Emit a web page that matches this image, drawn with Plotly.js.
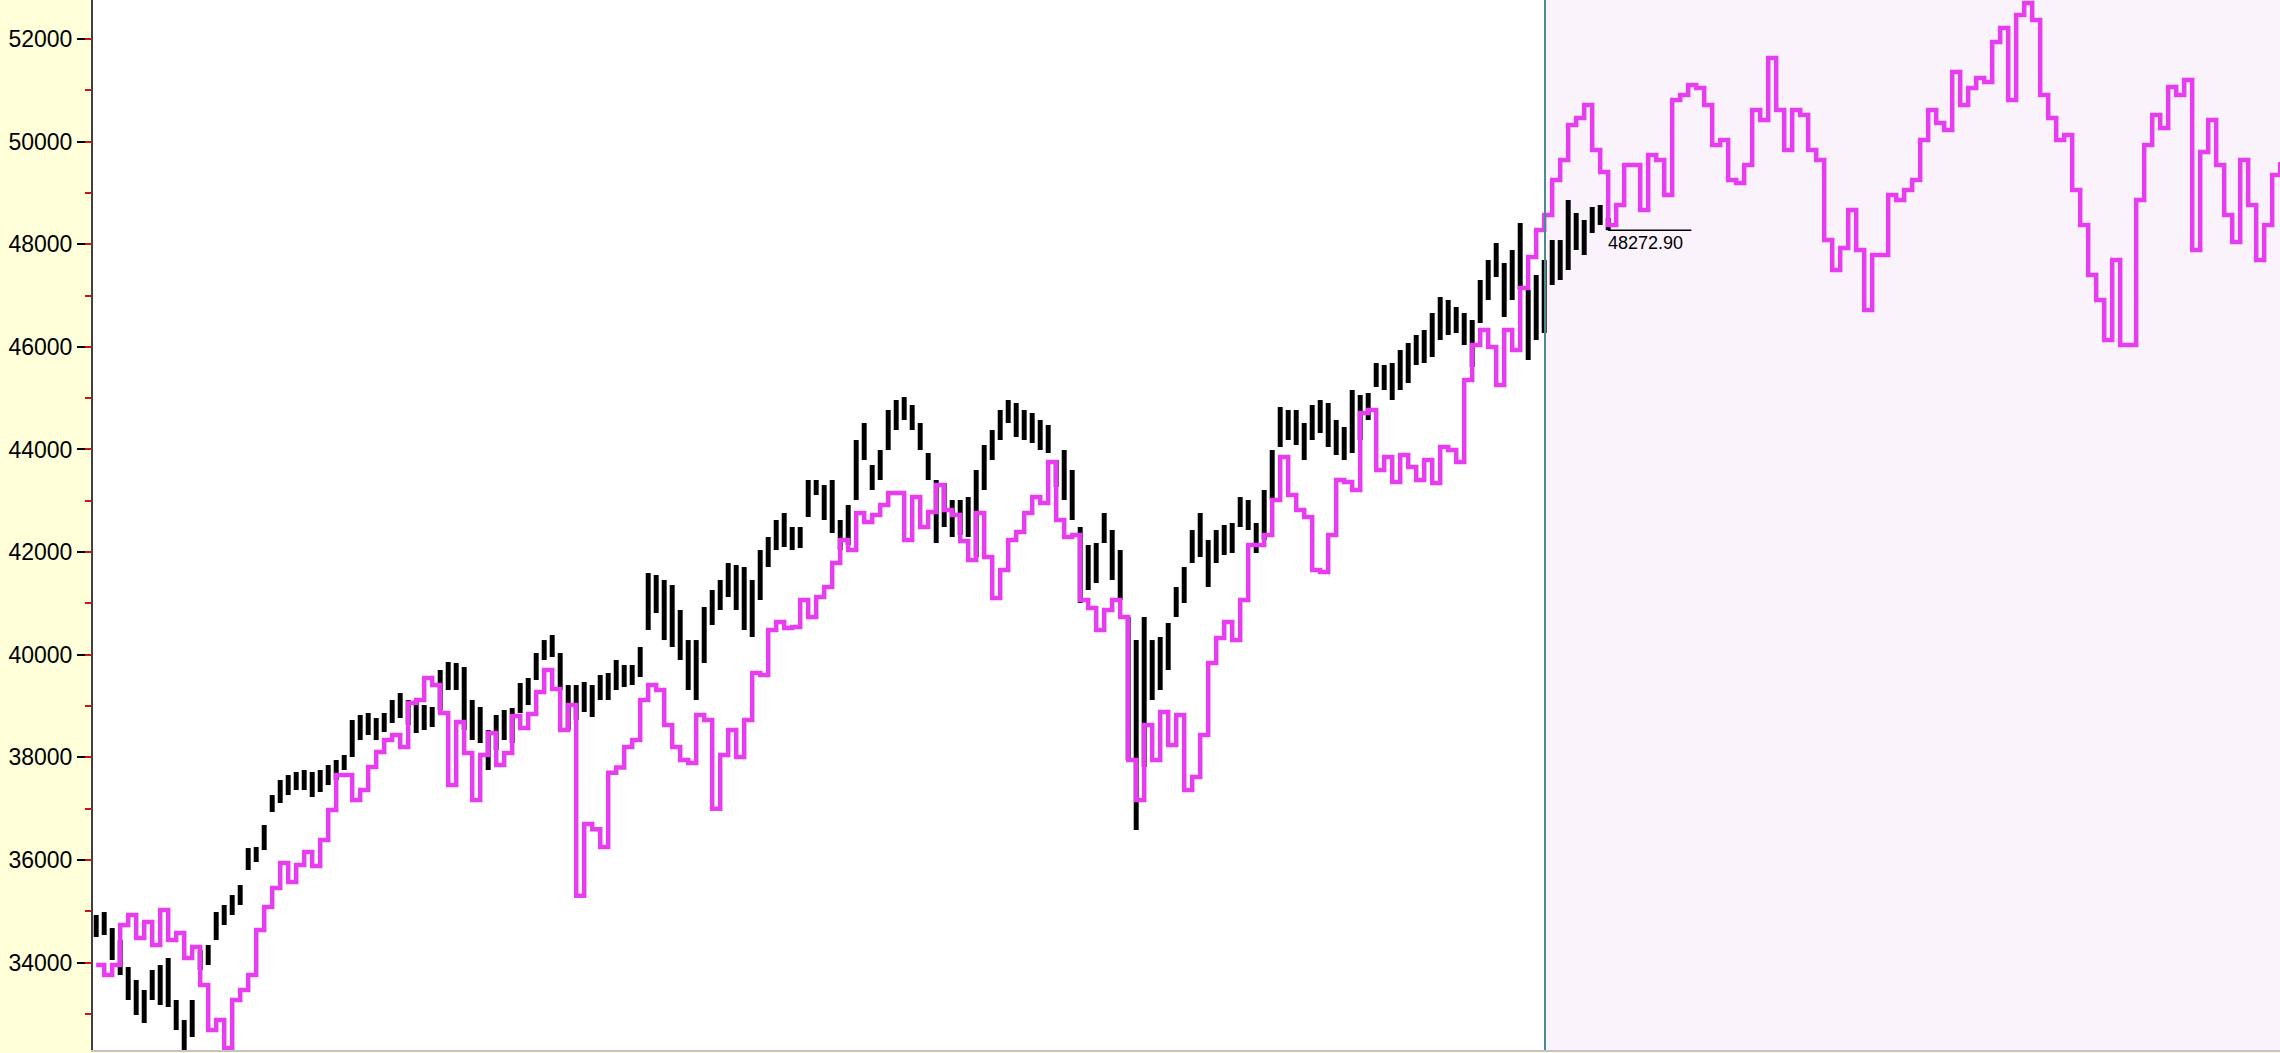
<!DOCTYPE html>
<html>
<head>
<meta charset="utf-8">
<script src="https://cdn.plot.ly/plotly-3.0.1.min.js"></script>
<style>
html,body{margin:0;padding:0;background:#FFFFDA;overflow:hidden;}
#chart{width:2280px;height:1053px;}
</style>
</head>
<body>
<div id="chart"></div>
<script>
// Daily price bars (high / low), one per bar slot
const priceHigh = [
34927,34985,34673,34439,33913,33660,33465,33855,33952,34089,
33270,32880,33270,34244,34342,34985,35122,35316,35511,36232,
36252,36681,37265,37558,37655,37714,37753,37714,37753,37850,
37948,38045,38727,38825,38864,38766,38864,39117,39253,39117,
39117,39020,38981,39702,39858,39838,39760,39117,38981,38532,
38825,38922,38961,39448,39546,40033,40286,40384,40033,39409,
39409,39468,39409,39604,39643,39897,39799,39799,40150,41592,
41553,41456,41358,40871,40286,40286,40930,41261,41456,41787,
41748,41709,41456,42040,42294,42625,42762,42489,42489,43405,
43405,43307,43405,42625,42918,44184,44516,43697,43989,44769,
44964,45022,44867,44516,43931,43405,43346,43015,43015,43073,
43600,44087,44379,44769,44964,44906,44769,44711,44574,44477,
43795,43989,43600,42489,42138,42177,42762,42430,42040,40735,
40286,40735,40286,40345,40618,41319,41709,42430,42762,42235,
42430,42528,42567,43073,43015,42567,43210,43989,44828,44769,
44769,44516,44867,44964,44906,44574,44438,45159,45061,45100,
45685,45646,45685,45938,46075,46231,46328,46660,46971,46913,
46777,46660,46523,47303,47693,48024,47634,47887,48414,47108,
47400,47693,48082,48082,48862,48609,48472,48726,48765,48511
];
const priceLow = [
34498,34537,34050,33757,33270,32978,32822,33270,33173,33134,
32685,32295,32549,33855,33952,34439,34732,34927,35122,35804,
35960,36193,36934,37110,37265,37363,37363,37226,37324,37460,
37558,37753,38006,38337,38435,38337,38493,38669,38766,38630,
38474,38532,38591,38922,39312,39312,38532,38337,38279,37753,
38142,38337,38279,38864,39020,39507,39897,39955,39312,38532,
38727,38883,38786,39117,39117,39312,39370,39409,39565,40481,
40813,40286,40150,39897,39312,39117,39838,40579,40871,41124,
40871,40481,40345,41066,41709,42040,42099,42040,42079,42684,
43112,42625,42372,42040,42138,43015,43795,43210,43405,43989,
44379,44574,44379,43989,43405,42177,42489,42294,42333,42294,
41904,43210,43795,44184,44516,44243,44184,44126,43989,43931,
43268,43015,42625,41008,41261,41397,42177,41456,41066,37948,
36583,37811,39117,39312,39702,40735,41008,41787,41904,41319,
41787,41943,41982,42489,42430,41982,42235,43015,44048,44184,
44087,43795,44184,44321,44048,43892,43795,43931,44184,44574,
45217,45159,44964,45159,45295,45646,45685,45802,46133,46231,
46270,46036,45607,46465,46913,47361,46582,46913,47108,45744,
46133,46270,47205,47303,47498,47887,47790,48219,48375,48272.90
];
// Projection line (magenta), one value per bar slot
const projection = [
33952,33757,33952,34732,34927,34478,34790,34342,35024,34439,
34576,34089,34303,33562,32685,32880,32334,33270,33465,33757,
34634,35083,35453,35940,35570,35901,36155,35882,36388,36973,
37655,37655,37168,37363,37811,38104,38337,38435,38201,39059,
39117,39546,39409,38864,37460,38688,38084,37168,38045,38474,
37850,38084,38805,38571,38844,39273,39702,39331,38532,39020,
35300,36700,36600,36250,37700,37800,38200,38337,39117,39409,
39312,38630,38201,37948,37889,38825,38727,37000,38045,38532,
38006,38727,39643,39604,40481,40637,40520,40540,41066,40735,
41124,41319,41787,42235,42040,42762,42586,42723,42918,43151,
43151,42235,43073,42489,42781,43307,42820,42723,42216,41846,
42762,41904,41105,41651,42235,42391,42762,43073,42957,43756,
42625,42294,42333,41066,40910,40481,40871,41066,40735,37948,
37168,38630,37948,38883,38240,38825,37363,37616,38435,39838,
40325,40637,40286,41066,42138,42138,42333,43015,43853,43112,
42820,42684,41651,41612,42333,43405,43366,43210,44711,44769,
43600,43853,43366,43892,43658,43405,43795,43346,44048,43989,
43756,45354,46036,46328,45997,45256,46328,45938,47147,47751,
48277,48570,49252,49642,50324,50460,50714,49836,49408,48375,
48765,49544,49544,48667,49739,49642,48959,50811,50908,51103,
51045,50714,49934,50031,49252,49193,49544,50616,50421,51630,
50616,49836,50616,50519,49836,49642,48082,47498,47926,48667,
47887,46718,47790,47790,48959,48862,49057,49252,50031,50616,
50363,50226,51357,50714,51045,51240,51162,51941,52214,50811,
52468,52702,52370,50908,50460,50031,50129,49057,48375,47400,
46913,46133,47693,46036,46036,48862,49934,50519,50265,51064,
50908,51201,47887,49798,50421,49544,48570,48043,49642,48765,
47693,48375,49349,49603
];
const lastPrice = 48272.90;
const lastPriceLabel = "48272.90";
const forecastStartBar = 181.1;
const yTickVals = [34000,36000,38000,40000,42000,44000,46000,48000,50000,52000];
const yTickText = ["34000","36000","38000","40000","42000","44000","46000","48000","50000","52000"];
const yMinorVals = [33000,34000,35000,36000,37000,38000,39000,40000,41000,42000,43000,44000,45000,46000,47000,48000,49000,50000,51000,52000];

const X_RANGE = [-0.4, 272.975];
const Y_RANGE = [32296, 52760];

const barIdx = priceHigh.map((_, i) => i);
const projIdx = projection.map((_, i) => i);
const lastBar = barIdx[barIdx.length - 1];

const traces = [
  {
    type: 'bar',
    x: barIdx,
    base: priceLow,
    y: priceHigh.map((h, i) => h - priceLow[i]),
    width: 0.62,
    marker: {color: '#000000', line: {width: 0}},
    hoverinfo: 'skip'
  },
  {
    type: 'scatter',
    mode: 'lines',
    x: projIdx,
    y: projection,
    line: {color: '#E83CF0', width: 4.5, shape: 'hv'},
    hoverinfo: 'skip'
  },
  {
    type: 'scatter',
    mode: 'markers',
    x: [barIdx[0]],
    y: [yTickVals[0]],
    yaxis: 'y2',
    marker: {opacity: 0, size: 1},
    hoverinfo: 'skip'
  }
];

const layout = {
  width: 2280,
  height: 1053,
  margin: {l: 93, r: 0, t: 0, b: 3, pad: 0},
  paper_bgcolor: '#FFFFDA',
  plot_bgcolor: '#FFFFFF',
  showlegend: false,
  barmode: 'overlay',
  xaxis: {
    range: X_RANGE,
    showgrid: false, zeroline: false,
    showticklabels: false, ticks: '',
    showline: true, linecolor: '#C4C4C4', linewidth: 2
  },
  yaxis: {
    range: Y_RANGE,
    tickmode: 'array', tickvals: yTickVals, ticktext: yTickText,
    ticks: 'outside', ticklen: 14, tickwidth: 2, tickcolor: '#000000',
    showgrid: false, zeroline: false,
    showline: true, linecolor: '#404040', linewidth: 2,
    tickfont: {family: 'Liberation Sans, Arial, sans-serif', size: 23, color: '#000000'}
  },
  yaxis2: {
    range: Y_RANGE,
    overlaying: 'y', side: 'left', anchor: 'x',
    tickmode: 'array', tickvals: yMinorVals,
    ticks: 'outside', ticklen: 7, tickwidth: 2, tickcolor: '#B41E1E',
    showticklabels: false, showgrid: false, zeroline: false, showline: false
  },
  shapes: [
    {type: 'rect', xref: 'x', yref: 'paper', x0: forecastStartBar, x1: X_RANGE[1] + 5, y0: 0, y1: 1,
     fillcolor: '#FBF3FC', line: {width: 0}, layer: 'below'},
    {type: 'line', xref: 'x', yref: 'paper', x0: forecastStartBar, x1: forecastStartBar, y0: 0, y1: 1,
     line: {color: '#4B8B8F', width: 2}},
    {type: 'line', xref: 'x', yref: 'y', x0: lastBar, x1: lastBar + 10.4, y0: lastPrice, y1: lastPrice,
     line: {color: '#000000', width: 1.5}}
  ],
  annotations: [
    {x: lastBar, y: lastPrice, xref: 'x', yref: 'y', text: lastPriceLabel,
     showarrow: false, xanchor: 'left', yanchor: 'top', yshift: -1, xshift: -2,
     font: {family: 'Liberation Sans, Arial, sans-serif', size: 18, color: '#000000'}}
  ]
};

Plotly.newPlot('chart', traces, layout, {staticPlot: true, displayModeBar: false});
</script>
</body>
</html>
